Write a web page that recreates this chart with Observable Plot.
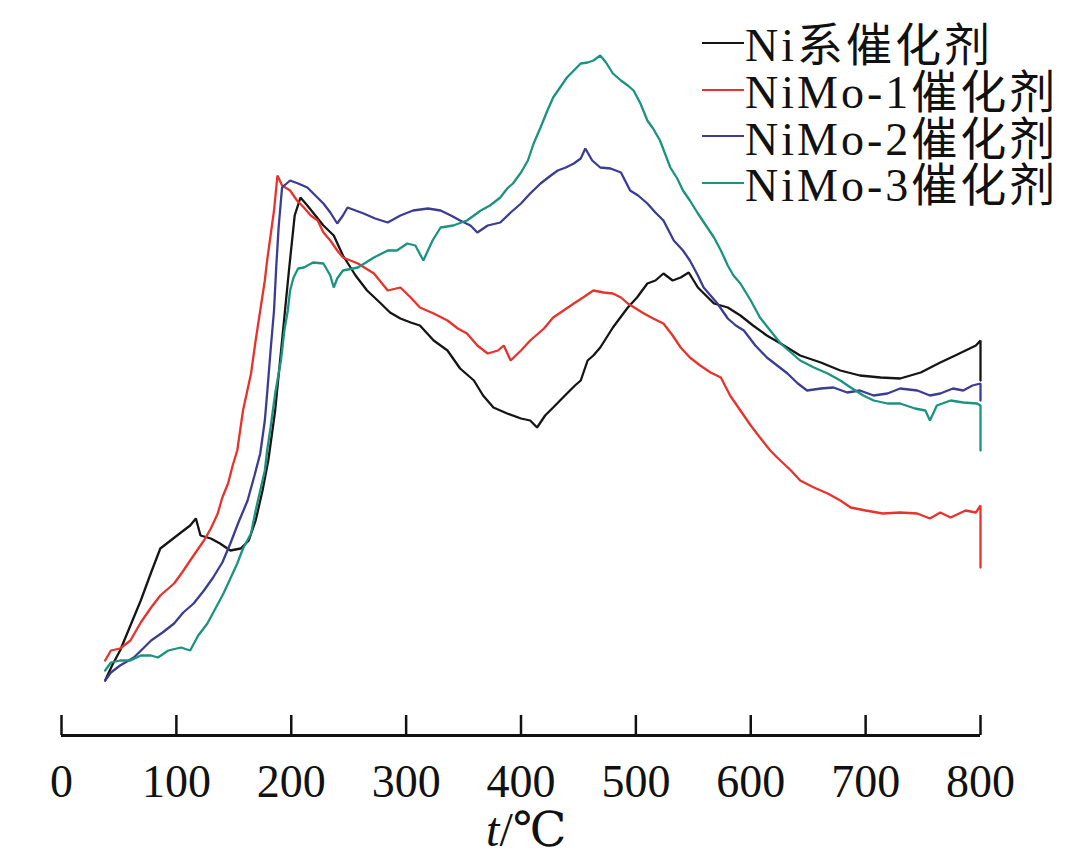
<!DOCTYPE html>
<html>
<head>
<meta charset="utf-8">
<script src="https://cdn.jsdelivr.net/npm/d3@7"></script>
<script src="https://cdn.jsdelivr.net/npm/@observablehq/plot@0.6"></script>
<style>
  html, body { margin: 0; padding: 0; background: #fff; }
  #wrap { position: relative; width: 1076px; height: 855px; }
  #legend { position: absolute; left: 702px; top: 18px; font-family: "Liberation Serif", "Noto Sans CJK SC", serif; font-size: 46px; color: #111; letter-spacing: 3px; }
  .row { display: flex; align-items: center; height: 46.7px; white-space: nowrap; }
  .sw { width: 42px; height: 2px; margin-right: 1px; margin-top: 3px; }
</style>
</head>
<body>
<div id="wrap"><div id="legend"></div></div>
<script>
// Temperature (°C) and relative signal (a.u.)
const niT = [38,44,51,60,69,78,86,95,104,112,117,121,130,138,147,156,163,169,175,180,186,192,198,203,208,214,221,228,237,245,256,266,278,286,295,304,312,324,336,347,359,367,376,388,400,408,414,421,428,434,440,447,452,458,463,469,480,493,501,510,517,524,532,539,546,554,568,580,591,602,614,626,643,661,678,695,713,730,748,765,778,787,796,800,800];
const niY = [5.5,7.0,8.5,11.0,13.5,16.3,18.7,19.5,20.3,21.0,21.7,20.0,19.7,19.2,18.5,18.7,19.5,21.5,24.5,27.5,32.5,39.5,46.5,52.0,53.8,53.0,52.0,51.0,50.0,48.0,46.0,44.5,43.2,42.3,41.7,41.3,41.0,39.5,38.5,36.7,35.5,34.0,32.8,32.2,31.7,31.5,30.8,32.0,32.8,33.5,34.2,35.0,35.5,37.5,38.0,38.8,40.8,42.8,43.8,45.2,45.5,46.2,45.5,45.8,46.3,44.8,43.2,42.8,42.0,41.0,40.0,39.2,38.0,37.3,36.5,36.0,35.8,35.7,36.3,37.3,38.0,38.5,39.0,39.5,35.5];

const m1T = [38,43,51,60,69,78,86,98,105,112,118,124,130,136,140,145,149,153,158,165,169,173,177,179,182,185,188,192,199,205,211,217,223,228,234,240,245,258,265,272,284,295,304,312,324,336,345,353,362,371,380,385,391,400,408,420,428,437,446,454,463,472,480,487,493,500,507,515,524,532,539,547,556,565,574,582,591,600,608,617,623,635,643,655,667,678,687,700,715,730,745,756,765,774,787,796,800,800];
const m1Y = [7.5,8.5,8.7,9.5,11.3,12.8,14.0,15.2,16.3,17.5,18.5,19.5,20.7,22.2,23.8,25.2,27.0,28.5,32.5,36.2,39.5,42.5,45.5,47.5,50.0,52.5,56.0,55.0,54.5,53.5,52.8,52.0,51.5,50.3,49.5,48.5,47.8,47.2,46.7,46.2,44.5,44.8,43.8,42.8,42.2,41.5,40.7,40.2,39.0,38.2,38.5,39.0,37.5,38.5,39.5,40.7,41.8,42.5,43.2,43.8,44.5,44.3,44.2,43.8,43.2,42.7,42.2,41.7,41.2,40.0,38.8,37.8,37.0,36.3,35.8,34.0,32.5,31.0,29.8,28.5,27.8,26.5,25.5,24.8,24.2,23.5,22.8,22.5,22.2,22.3,22.2,21.7,22.3,21.8,22.5,22.3,23.0,16.8];

const m2T = [38,43,51,63,71,78,88,98,106,115,124,132,140,147,154,162,168,173,177,179,182,185,187,189,192,199,206,214,221,228,234,240,245,249,256,263,273,284,295,306,319,330,339,347,356,362,371,382,391,400,408,417,426,432,439,446,452,456,462,469,478,487,495,502,510,517,524,533,541,547,554,559,565,571,580,587,594,604,614,623,632,641,649,661,672,684,695,707,719,730,745,756,765,776,785,793,800,800];
const m2Y = [5.5,6.3,7.0,7.8,8.7,9.5,10.3,11.2,12.3,13.2,14.5,15.8,17.3,19.2,21.3,23.5,26.0,28.2,31.5,34.2,38.5,42.5,47.0,50.8,54.8,55.5,55.2,54.8,54.0,53.2,52.3,51.2,52.0,52.8,52.5,52.2,51.7,51.3,52.0,52.5,52.7,52.5,52.0,51.5,51.0,50.3,51.0,51.3,52.3,53.2,54.2,55.2,56.0,56.5,56.8,57.2,57.7,58.7,57.5,56.8,56.7,56.3,54.5,54.0,53.2,52.3,51.5,49.5,48.5,47.5,46.0,44.8,44.0,43.2,41.7,41.0,40.5,39.0,37.8,37.0,36.2,35.2,34.5,34.7,34.8,34.3,34.5,34.0,34.2,34.7,34.5,34.0,34.2,34.7,34.5,35.0,35.2,33.5];

const m3T = [38,43,51,60,69,78,84,93,104,112,119,127,134,141,147,153,158,165,169,173,177,179,182,186,191,194,197,199,202,206,211,219,228,234,237,240,245,258,272,284,292,301,308,315,323,330,341,353,365,373,382,388,393,400,406,411,417,423,428,434,440,446,452,458,463,469,474,480,487,493,498,504,510,515,521,530,536,541,547,554,561,568,574,580,585,591,600,608,617,626,635,643,655,667,678,687,698,707,719,730,743,752,756,762,774,785,797,800,800];
const m3Y = [6.5,7.3,7.5,7.5,8.0,8.0,7.8,8.5,8.8,8.5,10.0,11.2,12.7,14.2,15.7,17.2,18.7,20.2,22.5,24.5,26.5,28.5,30.8,34.2,37.5,40.5,42.5,44.5,45.8,46.7,46.8,47.3,47.2,46.0,44.8,45.7,46.5,46.8,47.8,48.5,48.5,49.2,49.0,47.5,49.5,50.8,51.0,51.5,52.5,53.0,53.8,54.7,55.2,56.3,57.5,59.2,60.8,62.5,63.8,64.8,65.8,66.5,67.2,67.3,67.5,68.0,67.3,66.2,65.5,65.0,64.5,63.2,61.5,60.7,59.5,56.8,55.7,54.5,53.5,52.2,51.0,49.8,48.5,47.0,46.0,45.2,43.5,41.8,40.5,39.2,38.3,37.5,36.8,36.2,35.5,34.8,34.0,33.5,33.2,33.2,32.7,32.5,31.5,33.0,33.5,33.3,33.2,33.0,28.5];

const seriesNames = ["Ni系催化剂", "NiMo-1催化剂", "NiMo-2催化剂", "NiMo-3催化剂"];
const seriesColors = ["#151515", "#e8322c", "#3b3d94", "#1b937f"];
const xTicks = [0, 100, 200, 300, 400, 500, 600, 700, 800];

const seriesT = [niT, m1T, m2T, m3T];
const seriesY = [niY, m1Y, m2Y, m3Y];
const rows = [];
seriesNames.forEach((name, i) => {
  seriesT[i].forEach((t, j) => rows.push({series: name, t, v: seriesY[i][j]}));
});

const serif = "'Liberation Serif', 'Noto Sans CJK SC', serif";

const chart = Plot.plot({
  width: 1076,
  height: 855,
  marginLeft: 61,
  marginRight: 96,
  marginTop: 15,
  marginBottom: 120,
  style: {fontFamily: serif, background: "#fff", overflow: "visible"},
  x: {domain: [0, 800], axis: null},
  y: {domain: [0, 72], axis: null},
  color: {domain: seriesNames, range: seriesColors},
  marks: [
    Plot.line(rows, {x: "t", y: "v", z: "series", stroke: "series", strokeWidth: 2.3, strokeLinejoin: "miter"}),
    Plot.ruleY([0], {stroke: "#111", strokeWidth: 3}),
    Plot.ruleX(xTicks, {x: d => d, y1: 0, y2: 2, stroke: "#111", strokeWidth: 2.5}),
    Plot.text(xTicks, {x: d => d, y: 0, dy: 47, text: d => String(d), fontSize: 46, fill: "#111", lineAnchor: "middle", fontFamily: serif})
  ]
});

document.getElementById("wrap").prepend(chart);

// axis title with italic t
const xs = chart.scale("x");
const svg = d3.select(chart);
const title = svg.append("text")
  .attr("x", xs.apply(405))
  .attr("y", 846)
  .attr("text-anchor", "middle")
  .attr("font-size", 48)
  .attr("fill", "#111")
  .attr("font-family", serif);
title.append("tspan").attr("font-style", "italic").text("t");
title.append("tspan").text("/");
title.append("tspan").attr("font-family", "'DejaVu Serif', 'Liberation Serif', 'Noto Sans CJK SC', serif").text("℃");

// legend
const legend = d3.select("#legend");
seriesNames.forEach((name, i) => {
  const r = legend.append("div").attr("class", "row");
  r.append("div").attr("class", "sw").style("background", seriesColors[i]);
  r.append("span").text(name);
});
</script>
</body>
</html>
